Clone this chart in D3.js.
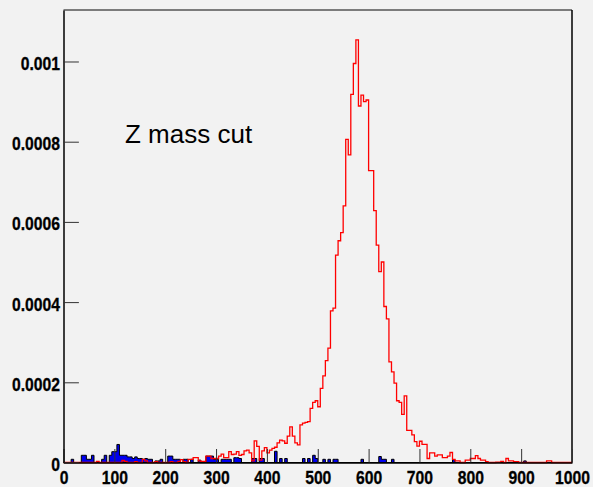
<!DOCTYPE html>
<html>
<head>
<meta charset="utf-8">
<script src="https://cdn.jsdelivr.net/npm/d3@7"></script>
<style>
  html, body { margin: 0; padding: 0; background: #f2f2f2; }
  svg { display: block; }
  .lbl { font-family: "Liberation Sans Narrow", "Liberation Sans", Arial, sans-serif; font-weight: bold; font-size: 18.5px; fill: #000; stroke: #000; stroke-width: 0.3px; }
</style>
</head>
<body>
<svg id="chart"></svg>
<script>
// bins of width 5 from 0 to 1000; values in units of 1e-6
var binWidth = 5;
var binStarts = d3.range(0, 1000, binWidth);

var redVals = [
  0,0,0,0,0,0,0,0,0,0,0,0,0,3,0,0,0,0,0,0,
  0,0,0,5,3,0,0,0,2,0,0,8,4,0,0,0,2,0,0,0,
  0,0,2,0,0,3,7,2,0,8,8,12,12,4,3,3,16,16,10,10,
  10,16,21,12,12,27,20,21,27,18,20,29,31,24,4,54,40,6,29,37,
  24,31,35,38,49,56,54,48,66,89,66,49,44,94,98,100,102,135,150,154,
  139,185,216,254,285,378,385,517,553,573,640,806,767,918,995,1054,889,916,900,904,
  728,728,628,542,476,500,389,358,251,226,198,154,150,120,166,80,80,69,52,41,
  53,45,45,10,24,24,16,19,19,12,12,16,25,8,4,4,0,0,6,6,
  10,10,17,10,6,6,2,0,0,0,1,1,3,0,10,4,4,2,2,0,
  0,0,0,0,0,0,0,0,0,0,4,4,0,0,0,0,0,0,0,0
];

var blueVals = [
  0,0,0,8,0,0,0,18,18,8,8,18,0,0,0,8,18,0,18,27,
  27,45,18,18,18,14,14,10,14,10,10,8,10,8,8,0,4,4,8,0,
  0,16,16,8,8,8,0,8,8,0,8,0,0,6,0,0,16,16,16,8,
  8,0,8,8,8,8,0,12,12,10,0,0,0,0,10,10,0,10,10,0,
  0,0,0,28,0,10,0,10,0,0,0,0,0,0,10,0,10,0,18,10,
  0,0,8,0,8,0,8,8,0,0,0,0,0,0,0,0,0,8,0,0,
  0,0,0,0,15,8,8,0,0,8,0,0,0,0,0,0,0,0,0,0,
  0,0,0,0,0,0,0,0,0,0,0,0,0,7,0,0,0,0,0,0,
  0,0,0,0,0,0,0,0,0,0,0,0,0,0,0,0,0,0,0,0,
  0,4,0,0,0,0,0,0,0,0,0,0,0,0,0,0,0,0,0,0
];
var valueUnit = 1e-6;

var xMajor = [0, 100, 200, 300, 400, 500, 600, 700, 800, 900, 1000];
var yMajor = [0, 0.0002, 0.0004, 0.0006, 0.0008, 0.001];
var yLabels = ['0', '0.0002', '0.0004', '0.0006', '0.0008', '0.001'];
var title = 'Z mass cut';

render();

function render() {
var W = 593, H = 487;
var fl = 63.5, fr = 572, ft = 10, fb = 462.5;
var squeeze = 0.85;

var svg = d3.select('#chart').attr('width', W).attr('height', H);
svg.append('rect').attr('width', W).attr('height', H).attr('fill', '#f2f2f2');

var x = d3.scaleLinear().domain([0, 1000]).range([fl, fr]);
var y = d3.scaleLinear().domain([0, 0.0011284]).range([fb, ft]);

function stepPoints(vals) {
  var pts = [[x(0), y(0)]];
  vals.forEach(function(v, i) {
    var x0 = x(binStarts[i]), x1 = x(binStarts[i] + binWidth);
    pts.push([x0, y(v * valueUnit)]);
    pts.push([x1, y(v * valueUnit)]);
  });
  pts.push([x(1000), y(0)]);
  return pts;
}

var line = d3.line();

// blue filled histogram
svg.append('path')
  .attr('d', line(stepPoints(blueVals)) + 'Z')
  .attr('fill', '#0000f0')
  .attr('stroke', '#000')
  .attr('stroke-width', 1);

// red line histogram
svg.append('path')
  .attr('d', line(stepPoints(redVals)))
  .attr('fill', 'none')
  .attr('stroke', '#ff0000')
  .attr('stroke-width', 1.3);

// frame top / right
svg.append('line').attr('x1', fl).attr('x2', fr).attr('y1', ft).attr('y2', ft)
  .attr('stroke', '#555').attr('stroke-width', 1.5);
svg.append('line').attr('x1', fr).attr('x2', fr).attr('y1', ft).attr('y2', fb)
  .attr('stroke', '#000').attr('stroke-width', 1.5);

// x axis
var gx = svg.append('g').attr('transform', 'translate(0,' + fb + ')');
gx.call(d3.axisBottom(x).tickValues(d3.range(0, 1001, 20)).tickSizeInner(-6.75).tickSizeOuter(0).tickFormat(''));
gx.call(d3.axisBottom(x).tickValues(xMajor).tickSizeInner(-13.5).tickSizeOuter(0).tickPadding(8.5).tickFormat(d3.format('d')));
gx.selectAll('.domain').attr('stroke', '#000').attr('stroke-width', 1.5);
gx.selectAll('.tick line').attr('stroke', '#333');
gx.selectAll('text').attr('class', 'lbl')
  .attr('transform', 'scale(' + squeeze + ',1)');

// y axis
var gy = svg.append('g').attr('transform', 'translate(' + fl + ',0)');
gy.call(d3.axisLeft(y).tickValues(d3.range(0, 22).map(function(i) { return i * 0.00005; })).tickSizeInner(-7.7).tickSizeOuter(0).tickFormat(''));
gy.call(d3.axisLeft(y).tickValues(yMajor).tickSizeInner(-15.4).tickSizeOuter(0).tickPadding(3.5)
  .tickFormat(function(d, i) { return yLabels[i]; }));
gy.selectAll('.domain').attr('stroke', '#000').attr('stroke-width', 1.5);
gy.selectAll('.tick line').attr('stroke', '#333');
gy.selectAll('text').attr('class', 'lbl')
  .attr('x', -3.5 / squeeze)
  .attr('dy', '0.43em')
  .attr('transform', 'scale(' + squeeze + ',1)');

// annotation
svg.append('text')
  .attr('x', 125).attr('y', 143)
  .attr('font-family', 'Liberation Sans, Arial, sans-serif')
  .attr('font-size', 26)
  .attr('fill', '#000')
  .text(title);
}
</script>
</body>
</html>
